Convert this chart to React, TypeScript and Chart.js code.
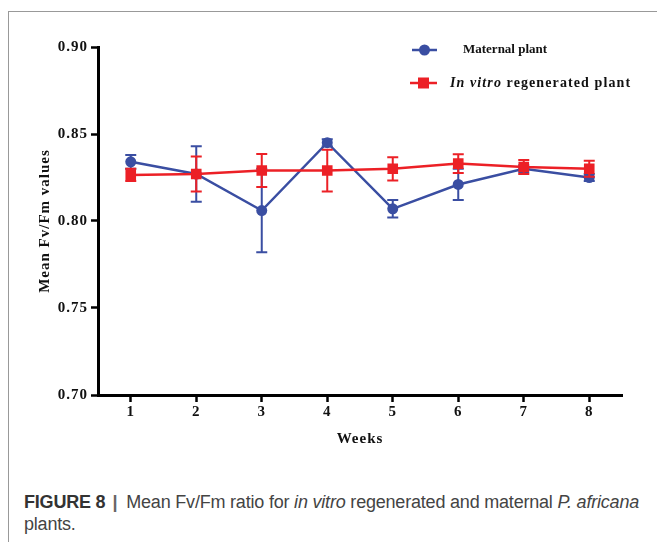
import React, { useEffect, useRef } from "react";
import { Chart, registerables } from "chart.js";

Chart.register(...registerables);

const weeks = ["1", "2", "3", "4", "5", "6", "7", "8"];
const maternalMean = [0.834, 0.827, 0.806, 0.845, 0.807, 0.821, 0.830, 0.825];
const maternalErr = [0.004, 0.016, 0.024, 0.002, 0.005, 0.009, 0.002, 0.002];
const vitroMean = [0.8265, 0.827, 0.829, 0.829, 0.830, 0.833, 0.831, 0.830];
const vitroErr = [0.0035, 0.010, 0.0095, 0.012, 0.0067, 0.0054, 0.004, 0.0046];
const yTicks = [0.7, 0.75, 0.8, 0.85, 0.9];

const BLUE = "rgb(58,78,162)";
const RED = "rgb(236,32,38)";
const SERIF = "'Liberation Serif', 'Times New Roman', serif";

const spacingPlugin = {
  id: "letterSpacing",
  beforeDraw(chart: any) {
    (chart.ctx as any).letterSpacing = "1px";
  },
  afterDraw(chart: any) {
    (chart.ctx as any).letterSpacing = "0px";
  },
};

const errorBarPlugin = {
  id: "errorBars",
  beforeDatasetDraw(chart: any, args: any) {
    const ds: any = chart.data.datasets[args.index];
    const errs: number[] = ds.errors || [];
    const yScale = chart.scales.y;
    const ctx = chart.ctx;
    ctx.save();
    ctx.strokeStyle = ds.borderColor;
    ctx.lineWidth = 2;
    args.meta.data.forEach((pt: any, i: number) => {
      const v = ds.data[i];
      const e = errs[i];
      const x = pt.x;
      const yTop = yScale.getPixelForValue(v + e);
      const yBot = yScale.getPixelForValue(v - e);
      ctx.beginPath();
      ctx.moveTo(x, yTop);
      ctx.lineTo(x, yBot);
      ctx.moveTo(x - 5.5, yTop);
      ctx.lineTo(x + 5.5, yTop);
      ctx.moveTo(x - 5.5, yBot);
      ctx.lineTo(x + 5.5, yBot);
      ctx.stroke();
    });
    ctx.restore();
  },
};

const legendPlugin = {
  id: "customLegend",
  afterDraw(chart: any) {
    const ctx = chart.ctx;
    ctx.save();
    (ctx as any).letterSpacing = "0px";
    // Maternal plant
    ctx.strokeStyle = BLUE;
    ctx.lineWidth = 2.5;
    ctx.beginPath();
    ctx.moveTo(412, 50);
    ctx.lineTo(437, 50);
    ctx.stroke();
    ctx.fillStyle = BLUE;
    ctx.beginPath();
    ctx.arc(424.5, 50, 5.5, 0, Math.PI * 2);
    ctx.fill();
    ctx.fillStyle = "#111";
    ctx.textBaseline = "middle";
    ctx.textAlign = "left";
    ctx.font = `bold 13px ${SERIF}`;
    ctx.fillText("Maternal plant", 463, 50);
    // In vitro regenerated plant
    ctx.strokeStyle = RED;
    ctx.beginPath();
    ctx.moveTo(410, 83);
    ctx.lineTo(437, 83);
    ctx.stroke();
    ctx.fillStyle = RED;
    ctx.fillRect(418, 77.5, 11, 11);
    ctx.fillStyle = "#111";
    (ctx as any).letterSpacing = "1.1px";
    ctx.font = `italic bold 14px ${SERIF}`;
    const part1 = "In vitro";
    ctx.fillText(part1, 450, 83);
    const w1 = ctx.measureText(part1).width;
    ctx.font = `bold 14px ${SERIF}`;
    ctx.fillText(" regenerated plant", 450 + w1, 83);
    ctx.restore();
  },
};

export default function App() {
  const ref = useRef<HTMLCanvasElement | null>(null);

  useEffect(() => {
    if (!ref.current) return;
    const chart = new Chart(ref.current, {
      type: "line",
      data: {
        labels: weeks,
        datasets: [
          {
            label: "In vitro regenerated plant",
            data: vitroMean,
            errors: vitroErr,
            borderColor: RED,
            backgroundColor: RED,
            borderWidth: 2.5,
            pointStyle: "rect",
            pointRadius: 7.5,
            pointBorderWidth: 0,
            order: 0,
          } as any,
          {
            label: "Maternal plant",
            data: maternalMean,
            errors: maternalErr,
            borderColor: BLUE,
            backgroundColor: BLUE,
            borderWidth: 2.5,
            pointStyle: "circle",
            pointRadius: 5.5,
            pointBorderWidth: 0,
            order: 1,
          } as any,
        ],
      },
      options: {
        responsive: false,
        animation: false,
        layout: { padding: { left: 0, top: 47, right: 35, bottom: 15 } },
        plugins: {
          legend: { display: false },
          tooltip: { enabled: false },
        },
        scales: {
          x: {
            type: "category",
            offset: true,
            afterFit: (s: any) => {
              s.height = 60;
            },
            border: { display: true, color: "#000", width: 3 },
            grid: {
              display: true,
              drawOnChartArea: false,
              drawTicks: true,
              tickLength: 7,
              tickWidth: 2.5,
              tickColor: "#000",
              offset: false,
            },
            ticks: {
              color: "#111",
              padding: 1,
              font: { family: SERIF, size: 15, weight: "bold" },
            },
            title: {
              display: true,
              text: "Weeks",
              color: "#111",
              font: { family: SERIF, size: 15, weight: "bold" },
              padding: { top: 0, bottom: 6.6 },
            },
          },
          y: {
            type: "linear",
            min: 0.7,
            max: 0.9,
            afterFit: (s: any) => {
              s.width = 98;
            },
            afterBuildTicks: (s: any) => {
              s.ticks = yTicks.map((v) => ({ value: v }));
            },
            border: { display: true, color: "#000", width: 3 },
            grid: {
              display: true,
              drawOnChartArea: false,
              drawTicks: true,
              tickLength: 7,
              tickWidth: 2.5,
              tickColor: "#000",
            },
            ticks: {
              color: "#111",
              padding: 3,
              font: { family: SERIF, size: 15, weight: "bold" },
              callback: (v: any) => Number(v).toFixed(2),
            },
            title: {
              display: true,
              text: "Mean Fv/Fm values",
              color: "#111",
              font: { family: SERIF, size: 15, weight: "bold" },
              padding: { top: 36, bottom: 0 },
            },
          },
        },
      } as any,
      plugins: [spacingPlugin, errorBarPlugin, legendPlugin],
    });
    return () => chart.destroy();
  }, []);

  return (
    <div
      style={{
        position: "fixed",
        left: 0,
        top: 0,
        width: 657,
        height: 542,
        background: "#fff",
        overflow: "hidden",
      }}
    >
      <div
        style={{
          position: "absolute",
          left: 8,
          top: 11,
          right: 0,
          bottom: 0,
          borderTop: "1px solid #999",
          borderLeft: "1px solid #999",
        }}
      />
      <canvas
        ref={ref}
        width={657}
        height={470}
        style={{ position: "absolute", left: 0, top: 0, width: 657, height: 470 }}
      />
      <div
        style={{
          position: "absolute",
          left: 24,
          top: 491,
          width: 633,
          fontFamily: "'Liberation Sans', Arial, sans-serif",
          fontSize: 18,
          lineHeight: "22px",
          color: "#444",
          whiteSpace: "nowrap",
          letterSpacing: "-0.2px",
        }}
      >
        <span style={{ fontWeight: "bold", color: "#333" }}>FIGURE 8</span>
        <span style={{ color: "#666", fontWeight: "bold", margin: "0 9px 0 7px" }}>|</span>
        Mean Fv/Fm ratio for <i>in vitro</i> regenerated and maternal <i>P. africana</i>
        <br />
        plants.
      </div>
    </div>
  );
}
